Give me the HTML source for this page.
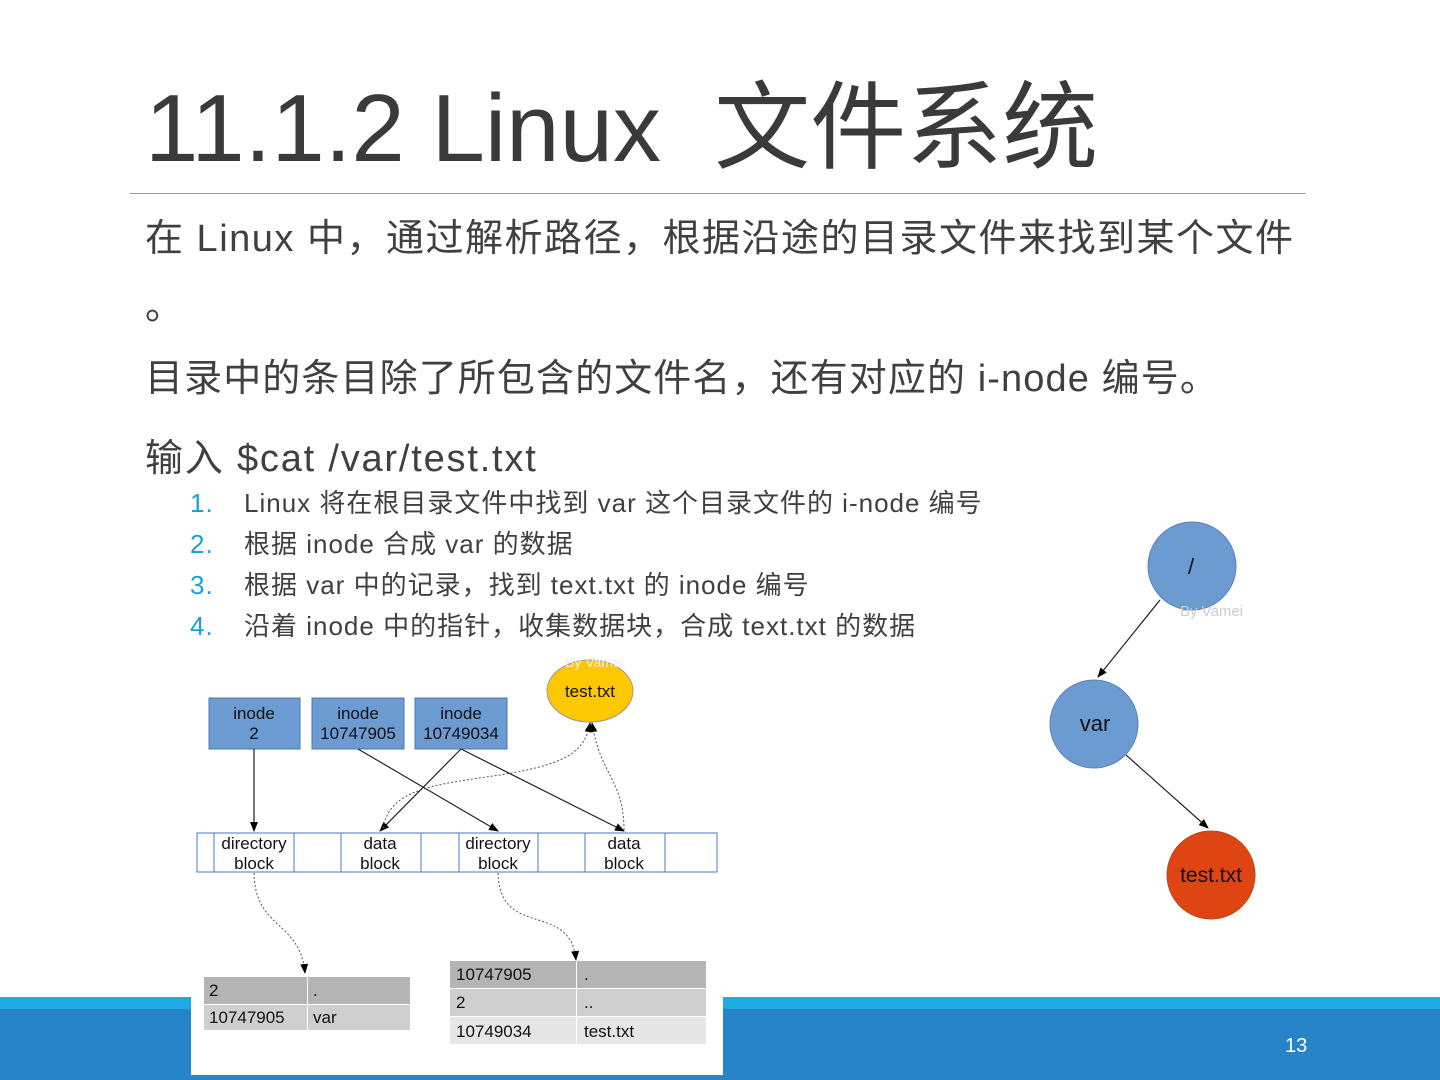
<!DOCTYPE html>
<html><head><meta charset="utf-8"><style>
body{margin:0;width:1440px;height:1080px;position:relative;overflow:hidden;background:#fff;font-family:"Liberation Sans","Noto Sans CJK SC",sans-serif;color:#404040}
.t{position:absolute;white-space:nowrap}
</style></head><body>
<div style="position:absolute;left:0;top:997px;width:1440px;height:12px;background:#1eaae2"></div>
<div style="position:absolute;left:0;top:1009px;width:1440px;height:71px;background:#2784c8"></div>
<div class="t" style="left:1285px;top:1035px;font-size:20px;color:#fff">13</div>
<div class="t" style="left:145px;top:50px;font-size:96px;color:#3a3a3a;letter-spacing:0px">11.1.2 Linux&nbsp; 文件系统</div>
<div style="position:absolute;left:130px;top:193px;width:1176px;height:1px;background:#999"></div>
<div class="t" style="left:145px;top:207px;font-size:38px;letter-spacing:1.5px">在 Linux 中，通过解析路径，根据沿途的目录文件来找到某个文件</div>
<div class="t" style="left:145px;top:275px;font-size:38px">。</div>
<div class="t" style="left:145px;top:347px;font-size:38px;letter-spacing:1.1px">目录中的条目除了所包含的文件名，还有对应的 i-node 编号。</div>
<div class="t" style="left:145px;top:427px;font-size:38px;letter-spacing:1.8px">输入 $cat /var/test.txt</div>
<div class="t" style="left:190px;top:483px;font-size:26px;line-height:41px;letter-spacing:1px">
<div><span style="color:#1ca0dc;display:inline-block;width:54px">1.</span>Linux 将在根目录文件中找到 var 这个目录文件的 i-node 编号</div>
<div><span style="color:#1ca0dc;display:inline-block;width:54px">2.</span>根据 inode 合成 var 的数据</div>
<div><span style="color:#1ca0dc;display:inline-block;width:54px">3.</span>根据 var 中的记录，找到 text.txt 的 inode 编号</div>
<div><span style="color:#1ca0dc;display:inline-block;width:54px">4.</span>沿着 inode 中的指针，收集数据块，合成 text.txt 的数据</div>
</div>
<svg width="1440" height="1080" style="position:absolute;left:0;top:0" font-family="Liberation Sans,sans-serif">
<defs><marker id="a" markerWidth="10" markerHeight="10" refX="9" refY="5" orient="auto" markerUnits="userSpaceOnUse"><path d="M0,1L10,5L0,9z" fill="#000"/></marker></defs>
<rect x="191" y="997" width="532" height="78" fill="#fff"/>
<line x1="1160" y1="600" x2="1098" y2="677" stroke="#222" stroke-width="1.2" marker-end="url(#a)"/>
<line x1="1126" y1="755" x2="1208" y2="828" stroke="#222" stroke-width="1.2" marker-end="url(#a)"/>
<circle cx="1192" cy="566" r="44" fill="#6b9bd1" stroke="#5a84b5"/>
<circle cx="1094" cy="724" r="44" fill="#6b9bd1" stroke="#5a84b5"/>
<circle cx="1211" cy="875" r="44" fill="#de4512" stroke="#b8491f"/>
<text x="1191" y="574" font-size="22" text-anchor="middle" fill="#111">/</text>
<text x="1095" y="731" font-size="22" text-anchor="middle" fill="#111">var</text>
<text x="1211" y="882" font-size="21" text-anchor="middle" fill="#111">test.txt</text>
<text x="1180" y="616" font-size="15" fill="#ccc">By Vamei</text>
<g fill="#6b9bd1" stroke="#4a78b5"><rect x="209" y="698" width="91" height="51"/><rect x="312" y="698" width="92" height="51"/><rect x="415" y="698" width="92" height="51"/></g>
<g font-size="17" text-anchor="middle" fill="#111">
<text x="254" y="719">inode</text><text x="254" y="739">2</text>
<text x="358" y="719">inode</text><text x="358" y="739">10747905</text>
<text x="461" y="719">inode</text><text x="461" y="739">10749034</text></g>
<ellipse cx="590" cy="691" rx="43" ry="31" fill="#fdc800" stroke="#999"/>
<text x="590" y="697" font-size="17" text-anchor="middle" fill="#111">test.txt</text>
<text x="565" y="667" font-size="14" fill="#eee">By Vamei</text>
<rect x="197" y="833" width="520" height="39" fill="#fff" stroke="#4a78c8"/>
<g stroke="#4a78c8" fill="none"><line x1="214" y1="833" x2="214" y2="872"/><line x1="294" y1="833" x2="294" y2="872"/><line x1="341" y1="833" x2="341" y2="872"/><line x1="421" y1="833" x2="421" y2="872"/><line x1="459" y1="833" x2="459" y2="872"/><line x1="538" y1="833" x2="538" y2="872"/><line x1="585" y1="833" x2="585" y2="872"/><line x1="665" y1="833" x2="665" y2="872"/></g>
<g font-size="17" text-anchor="middle" fill="#111">
<text x="254" y="849">directory</text><text x="254" y="869">block</text>
<text x="380" y="849">data</text><text x="380" y="869">block</text>
<text x="498" y="849">directory</text><text x="498" y="869">block</text>
<text x="624" y="849">data</text><text x="624" y="869">block</text></g>
<g stroke="#222" stroke-width="1.2" fill="none" marker-end="url(#a)">
<line x1="254" y1="749" x2="254" y2="831"/>
<line x1="358" y1="749" x2="498" y2="831"/>
<line x1="461" y1="749" x2="380" y2="831"/>
<line x1="461" y1="749" x2="624" y2="831"/></g>
<g stroke="#555" stroke-width="1" stroke-dasharray="2,2" fill="none" marker-end="url(#a)">
<path d="M383,828 C390,790 430,785 500,775 C560,765 585,755 590,723"/>
<path d="M624,830 C624,780 600,775 592,723"/>
<path d="M254,873 C255,930 300,920 305,973"/>
<path d="M498,873 C500,940 570,900 576,960"/></g>
<rect x="204" y="977" width="103" height="27" fill="#b4b4b4"/><rect x="308" y="977" width="102" height="27" fill="#b4b4b4"/>
<rect x="204" y="1005" width="103" height="25" fill="#cfcfcf"/><rect x="308" y="1005" width="102" height="25" fill="#cfcfcf"/>
<rect x="450" y="961" width="126" height="27" fill="#b4b4b4"/><rect x="577" y="961" width="129" height="27" fill="#b4b4b4"/>
<rect x="450" y="989" width="126" height="27" fill="#cfcfcf"/><rect x="577" y="989" width="129" height="27" fill="#cfcfcf"/>
<rect x="450" y="1017" width="126" height="27" fill="#e6e6e6"/><rect x="577" y="1017" width="129" height="27" fill="#e6e6e6"/>
<g font-size="17" fill="#111">
<text x="209" y="996">2</text><text x="313" y="996">.</text>
<text x="209" y="1023">10747905</text><text x="313" y="1023">var</text>
<text x="456" y="980">10747905</text><text x="584" y="980">.</text>
<text x="456" y="1008">2</text><text x="584" y="1008">..</text>
<text x="456" y="1037">10749034</text><text x="584" y="1037">test.txt</text></g>
</svg>
</body></html>
